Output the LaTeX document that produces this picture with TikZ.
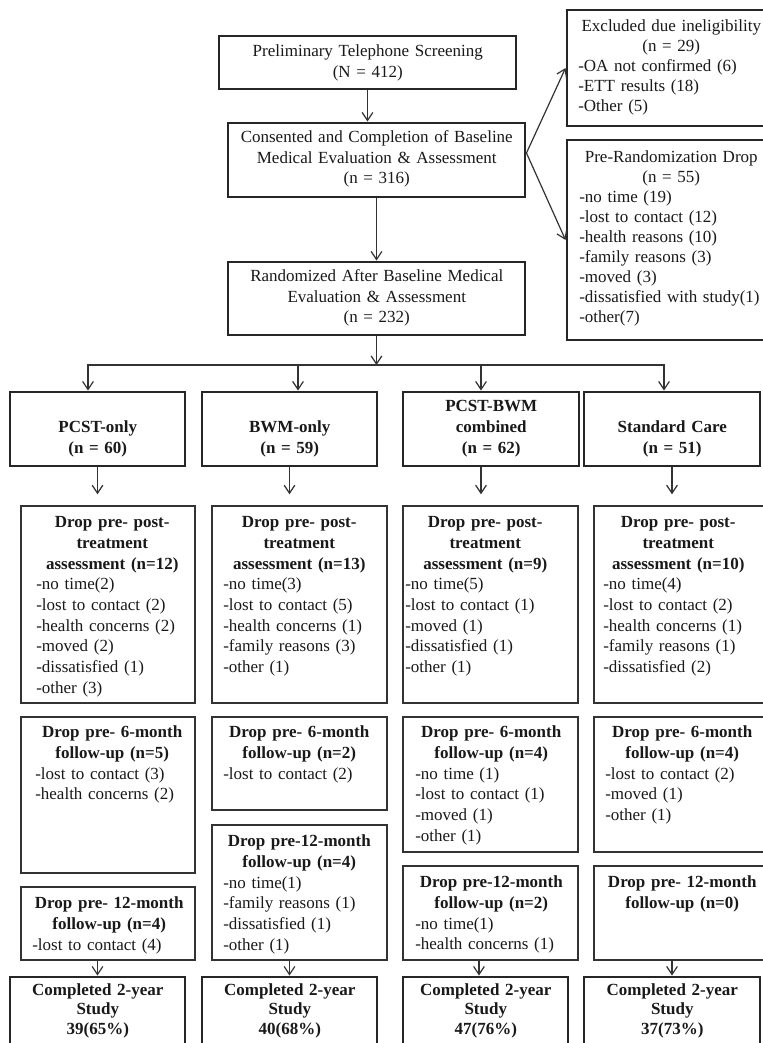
\documentclass[tikz,border=0pt]{standalone}
\usepackage{fontspec}
\setmainfont{Liberation Serif}
\usetikzlibrary{arrows.meta,fit,calc}
\begin{document}
\begin{tikzpicture}[x=0.75pt,y=-0.75pt,
  thickbox/.style={draw=black!85, line width=2.2pt, inner sep=0pt},
  thinbox/.style={draw=black!80, line width=1.1pt, inner sep=0pt},
  arr/.style={draw=black!80, line width=0.9pt, -{Straight Barb[length=6pt,width=8pt,line width=0.9pt]}},
  toptxt/.style={anchor=base west, inner sep=0pt, align=left, text=black!90, font=\fontsize{12.75}{15}\selectfont},
  topc/.style={anchor=base west, inner sep=0pt, align=center, text=black!90, font=\fontsize{12.75}{15.4}\selectfont},
  bottxt/.style={anchor=base west, inner sep=0pt, align=left, text=black!90, font=\fontsize{12.75}{15.56}\selectfont},
  grp/.style={anchor=base west, inner sep=0pt, align=center, text=black!90, text width=120pt, font=\fontsize{12.75}{15.75}\selectfont\bfseries},
  cmp/.style={anchor=base west, inner sep=0pt, align=center, text=black!90, text width=120pt, font=\fontsize{12.75}{14.6}\selectfont\bfseries},
]
\useasboundingbox[fill=white] (0,0) rectangle (763,1043);

% ---------- top column ----------
\node[thickbox, fit={(219,36) (516,89)}] (pre) {};
\node[topc, text width=217.5pt] (pret) at (222.5,56.5) {Preliminary Telephone Screening\\(N = 412)};
\node[thickbox, fit={(228,123) (525,197)}] (cons) {};
\node[topc, text width=217.5pt] (const) at (231.5,142.5) {Consented and Completion of Baseline\\Medical Evaluation \& Assessment\\(n = 316)};
\node[thickbox, fit={(228,262) (525,335)}] (rand) {};
\node[topc, text width=217.5pt] (randt) at (231.5,281.5) {Randomized After Baseline Medical\\Evaluation \& Assessment\\(n = 232)};

% ---------- right side boxes ----------
\node[thickbox, fit={(567,10) (776,126)}] (excl) {};
\node[toptxt, text width=139.5pt] (exclt) at (578,31.5) {{\centering Excluded due ineligibility\\(n = 29)\par}-OA not confirmed (6)\\-ETT results (18)\\-Other (5)};
\node[thickbox, fit={(567,140) (776,340)}] (prer) {};
\node[toptxt, text width=138pt] (prert) at (579,162.5) {{\centering Pre-Randomization Drop\\(n = 55)\par}-no time (19)\\-lost to contact (12)\\-health reasons (10)\\-family reasons (3)\\-moved (3)\\-dissatisfied with study(1)\\-other(7)};

% ---------- arm boxes ----------
\node[thickbox, fit={(10,392) (185,466)}] (pcst) {};
\node[grp] (pcstt) at (17.5,432) {PCST-only\\(n = 60)};
\node[thickbox, fit={(202,392) (377,466)}] (bwm) {};
\node[grp] (bwmt) at (209.5,432) {BWM-only\\(n = 59)};
\node[thickbox, fit={(403,392) (579,466)}] (pb) {};
\node[grp] (pbt) at (411,411.5) {PCST-BWM\\combined\\(n = 62)};
\node[thickbox, fit={(584,392) (760,466)}] (std) {};
\node[grp] (stdt) at (592,432) {Standard Care\\(n = 51)};

% ---------- drop boxes: post-treatment ----------
\node[thinbox, fit={(21,506) (195,703)}] (pd1) {};
\node[bottxt, text width=114pt] (pd1t) at (36,527.5) {{\centering\bfseries Drop pre- post-\\treatment\\assessment (n=12)\par}-no time(2)\\-lost to contact (2)\\-health concerns (2)\\-moved (2)\\-dissatisfied (1)\\-other (3)};
\node[thinbox, fit={(212,506) (387,703)}] (bd1) {};
\node[bottxt, text width=114pt] (bd1t) at (223,527.5) {{\centering\bfseries Drop pre- post-\\treatment\\assessment (n=13)\par}-no time(3)\\-lost to contact (5)\\-health concerns (1)\\-family reasons (3)\\-other (1)};
\node[thinbox, fit={(403,506) (578,703)}] (cd1) {};
\node[bottxt, text width=120pt] (cd1t) at (405,527.5) {{\centering\bfseries Drop pre- post-\\treatment\\assessment (n=9)\par}-no time(5)\\-lost to contact (1)\\-moved (1)\\-dissatisfied (1)\\-other (1)};
\node[thinbox, fit={(594,506) (768,703)}] (sd1) {};
\node[bottxt, text width=112.5pt] (sd1t) at (603,527.5) {{\centering\bfseries Drop pre- post-\\treatment\\assessment (n=10)\par}-no time(4)\\-lost to contact (2)\\-health concerns (1)\\-family reasons (1)\\-dissatisfied (2)};

% ---------- drop boxes: 6-month ----------
\node[thinbox, fit={(21,717) (195,873)}] (pd2) {};
\node[bottxt, text width=115.5pt] (pd2t) at (35,737.5) {{\centering\bfseries Drop pre- 6-month\\follow-up (n=5)\par}-lost to contact (3)\\-health concerns (2)};
\node[thinbox, fit={(212,717) (387,810)}] (bd2) {};
\node[bottxt, text width=114pt] (bd2t) at (223,737.5) {{\centering\bfseries Drop pre- 6-month\\follow-up (n=2)\par}-lost to contact (2)};
\node[thinbox, fit={(403,717) (578,852)}] (cd2) {};
\node[bottxt, text width=114pt] (cd2t) at (415,737.5) {{\centering\bfseries Drop pre- 6-month\\follow-up (n=4)\par}-no time (1)\\-lost to contact (1)\\-moved (1)\\-other (1)};
\node[thinbox, fit={(594,717) (768,852)}] (sd2) {};
\node[bottxt, text width=115.5pt] (sd2t) at (605,737.5) {{\centering\bfseries Drop pre- 6-month\\follow-up (n=4)\par}-lost to contact (2)\\-moved (1)\\-other (1)};

% ---------- drop boxes: 12-month ----------
\node[thinbox, fit={(21,887) (195,960)}] (pd3) {};
\node[bottxt, text width=115.5pt] (pd3t) at (32,908.5) {{\centering\bfseries Drop pre- 12-month\\follow-up (n=4)\par}-lost to contact (4)};
\node[thinbox, fit={(212,825) (387,960)}] (bd3) {};
\node[bottxt, text width=114pt] (bd3t) at (223,846.5) {{\centering\bfseries Drop pre-12-month\\follow-up (n=4)\par}-no time(1)\\-family reasons (1)\\-dissatisfied (1)\\-other (1)};
\node[thinbox, fit={(403,866) (578,960)}] (cd3) {};
\node[bottxt, text width=114pt] (cd3t) at (415,887.5) {{\centering\bfseries Drop pre-12-month\\follow-up (n=2)\par}-no time(1)\\-health concerns (1)};
\node[thinbox, fit={(594,866) (768,960)}] (sd3) {};
\node[bottxt, text width=115.5pt] (sd3t) at (605,887.5) {{\centering\bfseries Drop pre- 12-month\\follow-up (n=0)\par}};

% ---------- completed ----------
\node[thickbox, fit={(10,977) (185,1050)}] (pc) {};
\node[cmp] (pct) at (17.5,995.5) {Completed 2-year\\Study\\39(65\%)};
\node[thickbox, fit={(202,977) (377,1050)}] (bc) {};
\node[cmp] (bct) at (209.5,995.5) {Completed 2-year\\Study\\40(68\%)};
\node[thickbox, fit={(403,977) (568,1050)}] (cc) {};
\node[cmp] (cct) at (405.5,995.5) {Completed 2-year\\Study\\47(76\%)};
\node[thickbox, fit={(584,977) (760,1050)}] (sc) {};
\node[cmp] (sct) at (592,995.5) {Completed 2-year\\Study\\37(73\%)};

% ---------- connectors ----------
\draw[arr] (pre.south) -- (pre.south |- cons.north);
\draw[arr] (cons.south) -- (rand.north);
\coordinate (split) at (376.5,365);
\coordinate (b1) at (88,365);
\coordinate (b2) at (298,365);
\coordinate (b3) at (481,365);
\coordinate (b4) at (664,365);
\draw[arr] (rand.south) -- (split);
\draw[arr] (split) -- (b1) -- (b1 |- pcst.north);
\draw[arr] (split) -- (b4) -- (b4 |- std.north);
\draw[arr] (b2) -- (b2 |- bwm.north);
\draw[arr] (b3) -- (b3 |- pb.north);
\coordinate (cx) at ($(cons.east)+(0,-7)$);
\draw[arr] (cx) -- (excl.west);
\draw[arr] (cx) -- (prer.west);

\draw[arr, shorten >=8.25pt] (pcst.south) -- (pcst.south |- pd1.north);
\draw[arr, shorten >=8.25pt] (bwm.south) -- (bwm.south |- bd1.north);
\draw[arr, shorten >=8.25pt] ([xshift=-7.5pt]pb.south) -- ([xshift=-7.5pt]pb.south |- cd1.north);
\draw[arr, shorten >=8.25pt] (std.south) -- (std.south |- sd1.north);

\draw[arr] (pc.north |- pd3.south) -- (pc.north);
\draw[arr] (bc.north |- bd3.south) -- (bc.north);
\draw[arr] ([xshift=-4.9pt]cc.north |- cd3.south) -- ([xshift=-4.9pt]cc.north);
\draw[arr] (sc.north |- sd3.south) -- (sc.north);
\end{tikzpicture}
\end{document}
